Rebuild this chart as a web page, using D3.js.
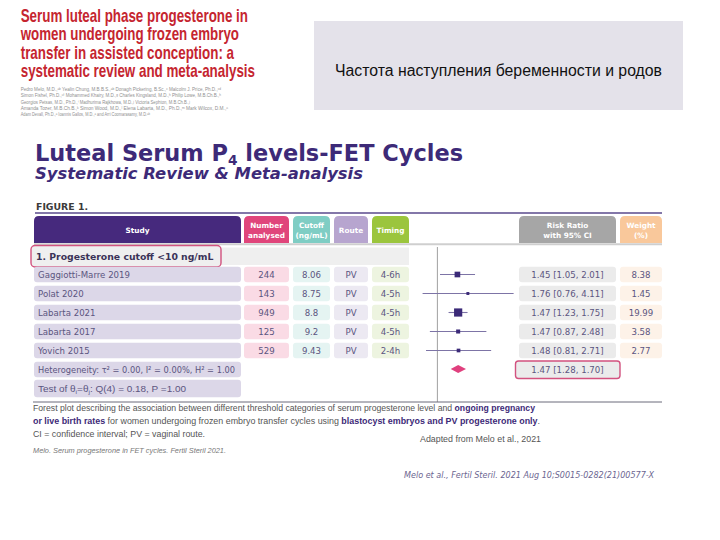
<!DOCTYPE html>
<html><head><meta charset="utf-8">
<script src="https://cdn.jsdelivr.net/npm/d3@7"></script>
<style>body{margin:0;background:#fff}svg{display:block}</style>
</head><body>
<script>
// ---------- data ----------
const studies  = ["Gaggiotti-Marre 2019","Polat 2020","Labarta 2021","Labarta 2017","Yovich 2015"];
const numbers  = ["244","143","949","125","529"];
const cutoffs  = ["8.06","8.75","8.8","9.2","9.43"];
const routes   = ["PV","PV","PV","PV","PV"];
const timings  = ["4-6h","4-5h","4-5h","4-5h","2-4h"];
const rr       = [1.45,1.76,1.47,1.47,1.48];
const ciLow    = [1.05,0.76,1.23,0.87,0.81];
const ciHigh   = [2.01,4.11,1.75,2.48,2.71];
const weights  = [8.38,1.45,19.99,3.58,2.77];
const pooled   = [1.47,1.28,1.70]; // estimate, low, high
const headerLabels = [["Study"],["Number","analysed"],["Cutoff","(ng/mL)"],["Route"],["Timing"],["Risk Ratio","with 95% CI"],["Weight","(%)"]];
const titleLines = ["Serum luteal phase progesterone in","women undergoing frozen embryo","transfer in assisted conception: a","systematic review and meta-analysis"];
const authorLines = [
 "Pedro Melo, M.D.,\u1d43\u1d47 Yealin Chung, M.B.B.S.,\u1d43\u1d47 Donagh Pickering, B.Sc.,\u1d9c Malcolm J. Price, Ph.D.,\u1d9c\u1d48",
 "Simon Fishel, Ph.D.,\u1d49\u1da0 Mohammed Khairy, M.D.,\u1d4d Charles Kingsland, M.D.,\u02b0 Philip Lowe, M.B.Ch.B.,\u02b0",
 "Georgios Petsas, M.D., Ph.D.,\u2071 Madhurima Rajkhowa, M.D.,\u02b2 Victoria Sephton, M.B.Ch.B.,\u02b2",
 "Amanda Tozer, M.B.Ch.B.,\u1d4f Simon Wood, M.D.,\u02e1 Elena Labarta, M.D., Ph.D.,\u1d50 Mark Wilcox, D.M.,\u207f",
 "Adam Devall, Ph.D.,\u1d43 Ioannis Gallos, M.D.,\u1d43 and Arri Coomarasamy, M.D.\u1d43\u1d47"];

// ---------- layout ----------
const W = 720, H = 540;
const svg = d3.select("body").append("svg").attr("width", W).attr("height", H)
  .style("font-family", "'DejaVu Sans', Verdana, sans-serif");
svg.append("rect").attr("width", W).attr("height", H).attr("fill", "#fff");

// red paper title
const titleEnds = [248, 239, 234, 255];
svg.append("g").selectAll("text").data(titleLines).join("text")
  .attr("x", 20.7).attr("y", (d, i) => 21.7 + i * 18.4)
  .attr("textLength", (d, i) => titleEnds[i] - 20.7).attr("lengthAdjust", "spacingAndGlyphs")
  .style("font-family", "'Liberation Sans Narrow','Liberation Sans',Arial,sans-serif")
  .style("font-weight", "bold").style("font-size", "18.5px").attr("fill", "#c5252f")
  .text(d => d);

const authorEnds = [221, 221, 190, 228, 150];
svg.append("g").selectAll("text").data(authorLines).join("text")
  .attr("x", 20.7).attr("y", (d, i) => 91 + i * 6.3)
  .attr("textLength", (d, i) => authorEnds[i] - 20.7).attr("lengthAdjust", "spacingAndGlyphs")
  .style("font-family", "'Liberation Sans',Arial,sans-serif").style("font-size", "5.3px")
  .attr("fill", "#8f8f8f").text(d => d);

// grey box top right
svg.append("rect").attr("x", 314).attr("y", 21).attr("width", 369).attr("height", 89).attr("fill", "#e4e2ea");
svg.append("text").attr("x", 335).attr("y", 76).attr("textLength", 327).attr("lengthAdjust", "spacingAndGlyphs")
  .style("font-family", "'Liberation Sans',Arial,sans-serif").style("font-size", "16px").attr("fill", "#111")
  .text("Частота наступления беременности и родов");

// main title
const t1 = svg.append("text").attr("x", 35).attr("y", 161).attr("textLength", 428).attr("lengthAdjust", "spacingAndGlyphs")
  .style("font-weight", "bold").style("font-size", "23px").attr("fill", "#3d2a78");
t1.append("tspan").text("Luteal Serum P");
t1.append("tspan").attr("dy", 3.5).style("font-size", "14px").text("4");
t1.append("tspan").attr("dy", -3.5).text(" levels-FET Cycles");
svg.append("text").attr("x", 35).attr("y", 178.5).attr("textLength", 328).attr("lengthAdjust", "spacingAndGlyphs")
  .style("font-weight", "bold").style("font-style", "italic").style("font-size", "16.5px").attr("fill", "#3d2a78")
  .text("Systematic Review & Meta-analysis");

// FIGURE 1.
svg.append("text").attr("x", 36).attr("y", 209.5).attr("textLength", 52).attr("lengthAdjust", "spacingAndGlyphs")
  .style("font-weight", "bold").style("font-size", "9.5px").attr("fill", "#3a3a3a").text("FIGURE 1.");
svg.append("line").attr("x1", 35).attr("x2", 662).attr("y1", 213).attr("y2", 213).attr("stroke", "#5a4a8c").attr("stroke-width", 1.5);

// columns
const cols = [[34,241],[244,289],[293,330],[334,368],[372,409],[519,616],[620,662]];
const headFill = ["#46297d","#e0457b","#7fcdc4","#b7a5cf","#9bc53d","#a6a6a6","#f9c89b"];
const cellFill = ["#dcd7e8","#fadbe5","#e5f4f2","#ece9f2","#edf4e0","#ebebeb","#fdf2e8"];
const topRounded = (x0, y0, x1, y1, r) => `M${x0},${y1}V${y0 + r}Q${x0},${y0} ${x0 + r},${y0}H${x1 - r}Q${x1},${y0} ${x1},${y0 + r}V${y1}Z`;

const hg = svg.append("g");
hg.selectAll("path").data(cols).join("path")
  .attr("d", c => topRounded(c[0], 216, c[1], 243, 5)).attr("fill", (c, i) => headFill[i]);
hg.selectAll("text").data(headerLabels).join("text")
  .attr("x", (d, i) => (cols[i][0] + cols[i][1]) / 2)
  .attr("text-anchor", "middle").attr("fill", "#fff").style("font-weight", "bold").style("font-size", "7.3px")
  .each(function (d) {
    const el = d3.select(this);
    d.forEach((line, j) => el.append("tspan").attr("x", el.attr("x"))
      .attr("y", d.length === 1 ? 232.5 : 228 + j * 9.5).text(line));
  });
svg.append("line").attr("x1", 34).attr("x2", 662).attr("y1", 244.2).attr("y2", 244.2).attr("stroke", "#cfcfcf").attr("stroke-width", 2);

// subgroup row
svg.append("rect").attr("x", 34).attr("y", 247.5).attr("width", 375).attr("height", 17.5).attr("fill", "#efefef");
svg.append("rect").attr("x", 31).attr("y", 245.5).attr("width", 190).attr("height", 21.5).attr("rx", 4)
  .attr("fill", "#efefef").attr("stroke", "#d2527f").attr("stroke-width", 1.4);
svg.append("text").attr("x", 36).attr("y", 260).style("font-weight", "bold").style("font-size", "9.3px")
  .attr("fill", "#3b3358").text("1. Progesterone cutoff <10 ng/mL");

// row scale
const y = d3.scaleLinear().domain([0, 6]).range([274.5, 388.5]);
const bh = 15.5;
const rows = studies.map((s, i) => [s, numbers[i], cutoffs[i], routes[i], timings[i],
  `${d3.format(".2f")(rr[i])} [${d3.format(".2f")(ciLow[i])}, ${d3.format(".2f")(ciHigh[i])}]`, d3.format(".2f")(weights[i])]);

const rg = svg.append("g").selectAll("g").data(rows).join("g");
rg.each(function (row, i) {
  const g = d3.select(this);
  row.forEach((v, c) => {
    g.append("rect").attr("x", cols[c][0]).attr("y", y(i) - bh / 2).attr("width", cols[c][1] - cols[c][0])
      .attr("height", bh).attr("rx", 3).attr("fill", cellFill[c]);
    g.append("text").attr("x", c === 0 ? 38 : (cols[c][0] + cols[c][1]) / 2).attr("y", y(i) + 3.3)
      .attr("text-anchor", c === 0 ? "start" : "middle").style("font-size", "8.6px").attr("fill", "#5b5580").text(v);
  });
});

// heterogeneity & test rows
svg.append("rect").attr("x", 34).attr("y", y(5) - bh / 2).attr("width", 207).attr("height", bh).attr("rx", 3).attr("fill", cellFill[0]);
svg.append("text").attr("x", 38).attr("y", y(5) + 3.3).attr("textLength", 197).attr("lengthAdjust", "spacingAndGlyphs")
  .style("font-size", "8.6px").attr("fill", "#5b5580")
  .text("Heterogeneity: \u03c4\u00b2 = 0.00, I\u00b2 = 0.00%, H\u00b2 = 1.00");
svg.append("rect").attr("x", 34).attr("y", y(6) - bh / 2 - 1).attr("width", 207).attr("height", bh + 2).attr("rx", 3).attr("fill", cellFill[0]);
const tt = svg.append("text").attr("x", 38).attr("y", y(6) + 3.3).attr("textLength", 148).attr("lengthAdjust", "spacingAndGlyphs")
  .style("font-family", "'Liberation Sans',Arial,sans-serif").style("font-size", "9px").attr("fill", "#5b5580");
tt.append("tspan").text("Test of \u03b8");
tt.append("tspan").attr("dy", 2).style("font-size", "6px").text("i");
tt.append("tspan").attr("dy", -2).text("=\u03b8");
tt.append("tspan").attr("dy", 2).style("font-size", "6px").text("j");
tt.append("tspan").attr("dy", -2).text(": Q(4) = 0.18, P =1.00");

// pooled RR box
svg.append("rect").attr("x", 515.5).attr("y", y(5) - 8.5).attr("width", 104.5).attr("height", 17.5).attr("rx", 3)
  .attr("fill", "#ebebeb").attr("stroke", "#d2527f").attr("stroke-width", 1.4);
svg.append("text").attr("x", 567.5).attr("y", y(5) + 3.3).attr("text-anchor", "middle").style("font-size", "8.6px")
  .attr("fill", "#5b5580").text(`${pooled[0].toFixed(2)} [${pooled[1].toFixed(2)}, ${pooled[2].toFixed(2)}]`);

// forest plot
const x = d3.scaleLog().domain([0.5, 4.5]).range([400, 518.5]);
const size = d3.scaleSqrt().domain([0, 20]).range([1, 8.2]);
svg.append("line").attr("x1", x(1)).attr("x2", x(1)).attr("y1", 247).attr("y2", 402).attr("stroke", "#a0a0a0").attr("stroke-width", 1);
const fg = svg.append("g");
fg.selectAll("line").data(rr).join("line")
  .attr("x1", (d, i) => x(ciLow[i])).attr("x2", (d, i) => x(ciHigh[i]))
  .attr("y1", (d, i) => y(i)).attr("y2", (d, i) => y(i)).attr("stroke", "#7d74a6").attr("stroke-width", 1.1);
fg.selectAll("rect").data(rr).join("rect")
  .attr("x", (d, i) => x(d) - size(weights[i]) / 2).attr("y", (d, i) => y(i) - size(weights[i]) / 2)
  .attr("width", (d, i) => size(weights[i])).attr("height", (d, i) => size(weights[i])).attr("fill", "#3b2a78");
const dy = y(5) - 0.5;
svg.append("path").attr("d", `M${x(pooled[1])},${dy}L${x(pooled[0])},${dy - 4}L${x(pooled[2])},${dy}L${x(pooled[0])},${dy + 4}Z`)
  .attr("fill", "#e0407e");

// bottom rule
svg.append("line").attr("x1", 33).attr("x2", 662).attr("y1", 402).attr("y2", 402).attr("stroke", "#6a6a7a").attr("stroke-width", 1);

// footnotes
const fnFont = "'Liberation Sans',Arial,sans-serif";
const fn = [
  {y: 411, len: 502, parts: [["Forest plot describing the association between different threshold categories of serum progesterone level and ", 0], ["ongoing pregnancy", 1]]},
  {y: 424, len: 507, parts: [["or live birth rates", 1], [" for women undergoing frozen embryo transfer cycles using  ", 0], ["blastocyst embryos and PV progesterone only", 1], [".", 0]]},
  {y: 437, len: 172, parts: [["CI = confidence interval; PV = vaginal route.", 0]]}
];
fn.forEach(l => {
  const t = svg.append("text").attr("x", 33).attr("y", l.y).attr("textLength", l.len).attr("lengthAdjust", "spacingAndGlyphs")
    .style("font-family", fnFont).style("font-size", "9px").attr("fill", "#555");
  l.parts.forEach(p => t.append("tspan").text(p[0]).style("font-weight", p[1] ? "bold" : "normal").attr("fill", p[1] ? "#3d2a78" : "#555"));
});
svg.append("text").attr("x", 420).attr("y", 441.5).attr("textLength", 121).attr("lengthAdjust", "spacingAndGlyphs")
  .style("font-family", fnFont).style("font-size", "9px").attr("fill", "#555").text("Adapted from Melo et al., 2021");
svg.append("text").attr("x", 33).attr("y", 452.5).attr("textLength", 193).attr("lengthAdjust", "spacingAndGlyphs")
  .style("font-family", fnFont).style("font-style", "italic").style("font-size", "6.8px").attr("fill", "#777")
  .text("Melo. Serum progesterone in FET cycles. Fertil Steril 2021.");
svg.append("text").attr("x", 404).attr("y", 478).attr("textLength", 250).attr("lengthAdjust", "spacingAndGlyphs")
  .style("font-style", "italic").style("font-size", "8px").attr("fill", "#6b6590")
  .text("Melo et al., Fertil Steril. 2021 Aug 10;S0015-0282(21)00577-X");
</script>
</body></html>
